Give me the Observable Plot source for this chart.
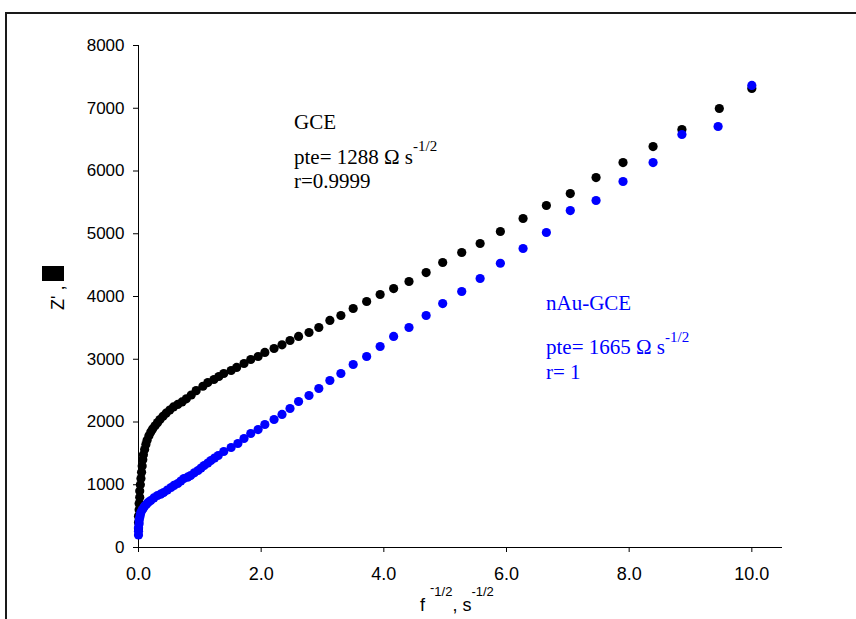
<!DOCTYPE html>
<html>
<head>
<meta charset="utf-8">
<script src="https://cdn.jsdelivr.net/npm/d3@7"></script>
<script src="https://cdn.jsdelivr.net/npm/@observablehq/plot@0.6"></script>
<style>
  html, body { margin: 0; padding: 0; background: #fff; overflow: hidden; }
  #wrap { position: relative; width: 856px; height: 619px; overflow: hidden; }
  #frame { position: absolute; left: 5px; top: 12px; width: 1000px; height: 1000px; border: 2px solid #1a1a1a; box-sizing: border-box; }
  #chart { position: absolute; left: 0; top: 0; }
  #overlay { position: absolute; left: 0; top: 0; pointer-events: none; }
  #ylab { position: absolute; left: 42px; top: 260px; width: 22px; height: 50px;
          writing-mode: vertical-rl; transform: rotate(180deg);
          font-family: "Liberation Sans", Arial, sans-serif; font-size: 18px; line-height: 22px; color: #000; white-space: nowrap; }
  #ylab .box { display: inline-block; width: 22px; height: 15px; background: #000; vertical-align: middle; }
</style>
</head>
<body>
<div id="wrap">
  <div id="frame"></div>
  <div id="chart"></div>
  <div id="ylab">Z' ,&nbsp;<span class="box"></span></div>
  <svg id="overlay" width="856" height="619" xmlns="http://www.w3.org/2000/svg">
    <g font-family="'Liberation Serif', 'Times New Roman', serif" font-size="21" fill="#000">
      <text x="294" y="128.5">GCE</text>
      <text x="294" y="164">pte= 1288 Ω s<tspan font-size="15" dy="-13">-1/2</tspan></text>
      <text x="294" y="187.5">r=0.9999</text>
    </g>
    <g font-family="'Liberation Serif', 'Times New Roman', serif" font-size="21" fill="#0000ff">
      <text x="546" y="310">nAu-GCE</text>
      <text x="546" y="354">pte= 1665 Ω s<tspan font-size="15" dy="-12">-1/2</tspan></text>
      <text x="546" y="379">r= 1</text>
    </g>
    <g font-family="'Liberation Sans', Arial, sans-serif" font-size="18" fill="#000">
      <text x="420" y="610.5">f <tspan font-size="13" dy="-19">-</tspan><tspan font-size="13" dy="4">1/2</tspan><tspan dy="15">, s</tspan><tspan font-size="13" dy="-15">-1/2</tspan></text>
    </g>
  </svg>
</div>
<script>
// GCE (black) series
const gceX = [0.00,0.00,0.00,0.01,0.01,0.02,0.02,0.03,0.04,0.05,0.06,0.07,0.08,0.10,0.12,0.14,0.17,0.20,0.23,0.27,0.31,0.35,0.40,0.45,0.51,0.57,0.64,0.71,0.78,0.86,0.94,1.05,1.13,1.23,1.31,1.39,1.51,1.60,1.72,1.83,1.95,2.06,2.21,2.34,2.47,2.61,2.78,2.94,3.12,3.30,3.50,3.72,3.94,4.16,4.41,4.69,4.96,5.27,5.57,5.90,6.27,6.65,7.04,7.46,7.90,8.39,8.86,9.47,10.0];
const gceY = [300,400,500,600,700,800,900,1000,1100,1200,1300,1400,1480,1560,1640,1710,1780,1840,1890,1940,1990,2040,2090,2140,2190,2240,2280,2320,2370,2430,2500,2570,2629,2677,2725,2773,2821,2869,2932,2996,3044,3108,3171,3230,3299,3363,3426,3506,3618,3697,3809,3920,4032,4127,4239,4382,4542,4701,4845,5036,5243,5450,5641,5896,6135,6390,6661,6996,7315];
// nAu-GCE (blue) series
const nauX = [0.00,0.00,0.00,0.01,0.01,0.02,0.03,0.04,0.06,0.08,0.10,0.13,0.16,0.20,0.25,0.31,0.36,0.41,0.47,0.53,0.58,0.64,0.69,0.74,0.80,0.85,0.91,0.97,1.02,1.07,1.13,1.18,1.24,1.30,1.39,1.51,1.62,1.72,1.83,1.95,2.06,2.21,2.34,2.47,2.61,2.78,2.94,3.12,3.30,3.50,3.72,3.94,4.16,4.41,4.69,4.96,5.27,5.57,5.90,6.27,6.65,7.04,7.46,7.90,8.39,8.86,9.45,10.0];
const nauY = [200,260,320,380,430,480,520,560,600,630,660,690,720,749,790,829,850,876,915,956,990,1020,1060,1100,1120,1147,1190,1227,1265,1307,1345,1386,1425,1466,1530,1594,1657,1737,1817,1880,1960,2040,2120,2215,2327,2422,2534,2661,2773,2916,3044,3203,3363,3506,3697,3888,4080,4287,4530,4765,5020,5370,5530,5833,6135,6582,6709,7363];
// axis ticks
const xTicks = [0, 2, 4, 6, 8, 10];
const yTicks = [0, 1000, 2000, 3000, 4000, 5000, 6000, 7000, 8000];

const gce = gceX.map((x, i) => ({x, y: gceY[i]}));
const nau = nauX.map((x, i) => ({x, y: nauY[i]}));

const chart = Plot.plot({
  width: 856,
  height: 619,
  marginLeft: 138,
  marginRight: 74,
  marginTop: 45,
  marginBottom: 72,
  style: {fontFamily: "'Liberation Sans', Arial, sans-serif", color: "#000", background: "transparent"},
  x: {domain: [0, 10.5]},
  y: {domain: [0, 8000]},
  marks: [
    Plot.axisY(yTicks, {tickSize: 5, tickPadding: 9, fontSize: 17, label: null, tickFormat: d => String(d)}),
    Plot.axisX(xTicks, {tickSize: 5, tickPadding: 15, fontSize: 18, label: null, tickFormat: d => d.toFixed(1)}),
    Plot.ruleX([0], {y1: 0, y2: 8000, stroke: "#000"}),
    Plot.ruleY([0], {x1: 0, x2: 10.5, stroke: "#000"}),
    Plot.dot(gce, {x: "x", y: "y", r: 4.6, fill: "#000", stroke: null}),
    Plot.dot(nau, {x: "x", y: "y", r: 4.6, fill: "#0000ff", stroke: null})
  ]
});
document.getElementById("chart").appendChild(chart);
</script>
</body>
</html>
